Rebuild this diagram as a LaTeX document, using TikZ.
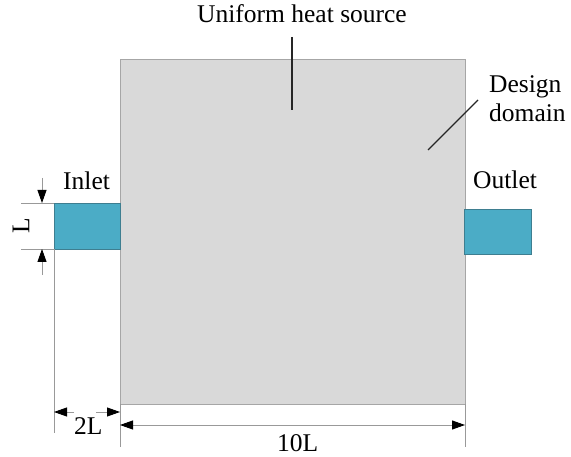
\documentclass[tikz,border=0pt]{standalone}
\usepackage{fontspec}
\setmainfont{Liberation Serif}
\newfontfamily\tnrfont{Liberation Serif}
\usetikzlibrary{arrows.meta}
\definecolor{domfill}{HTML}{D9D9D9}
\definecolor{domedge}{HTML}{A6A6A6}
\definecolor{portfill}{HTML}{4BACC6}
\definecolor{portedge}{HTML}{3E7E90}
\definecolor{extgray}{HTML}{999999}
\tikzset{
  lbl/.style={inner sep=0pt, font=\tnrfont\fontsize{25.5}{29}\selectfont, anchor=base west},
  box/.style={inner sep=0pt, outer sep=0pt, anchor=north west},
  ext/.style={draw=extgray, line width=0.9pt},
  tipk/.tip={Triangle[length=13pt,width=9pt,color=black]},
  dimline/.style={draw=extgray, line width=0.9pt, -tipk},
  dimboth/.style={draw=extgray, line width=0.9pt, tipk-tipk},
  leader/.style={draw=black!85, line width=1.1pt}
}
\begin{document}
\begin{tikzpicture}[x=1pt,y=-1pt]
\useasboundingbox (0,0) rectangle (571,457);
% shapes
\node[box, fill=domfill, draw=domedge, line width=0.8pt, minimum width=345pt, minimum height=345pt] (dom) at (120,59) {};
\node[box, fill=portfill, draw=portedge, line width=0.8pt, minimum width=66pt, minimum height=46pt] (inlet) at (54,203) {};
\node[box, fill=portfill, draw=portedge, line width=0.8pt, minimum width=67pt, minimum height=45pt] (outlet) at (464,209) {};
% labels
\node[lbl] (tsrc) at (197,23) {Uniform heat source};
\node[lbl] (tin) at (63,190) {Inlet};
\node[lbl] (tout) at (473,189) {Outlet};
\node[lbl] (tdes) at (489,93) {Design};
\node[lbl] (tdom) at (489,122) {domain};
\node[lbl] (t2L) at (74,435) {2L};
\node[lbl] (t10L) at (277,451) {10L};
\node[inner sep=0pt, font=\tnrfont\fontsize{25.5}{29}\selectfont, rotate=90] (tL) at (21,226) {L};
% coordinates
\coordinate (s1) at (292,37);
\coordinate (s2) at (292,110);
\coordinate (d1) at (478,100);
\coordinate (d2) at (428,150);
\coordinate (e1a) at (21,203);
\coordinate (e2a) at (21,249);
\coordinate (la) at (42,178);
\coordinate (lat) at (42,203);
\coordinate (lb) at (42,275);
\coordinate (lbt) at (42,249);
\coordinate (v1a) at (54,249);
\coordinate (v1b) at (54,433);
\coordinate (v2a) at (120,404);
\coordinate (v2b) at (120,447);
\coordinate (v3a) at (465,404);
\coordinate (v3b) at (465,447);
\coordinate (a1s) at (74,412);
\coordinate (a1t) at (54,412);
\coordinate (a2s) at (96,412);
\coordinate (a2t) at (120,412);
\coordinate (b1) at (120,425);
\coordinate (b2) at (465,425);
% leaders
\draw[leader] (s1) -- (s2);
\draw[leader] (d1) -- (d2);
% extension lines
\draw[ext] (e1a) -- (inlet.north west);
\draw[ext] (e2a) -- (inlet.south west);
\draw[ext] (v1a) -- (v1b);
\draw[ext] (v2a) -- (v2b);
\draw[ext] (v3a) -- (v3b);
% dimension arrows
\draw[dimline] (la) -- (lat);
\draw[dimline] (lb) -- (lbt);
\draw[dimline] (a1s) -- (a1t);
\draw[dimline] (a2s) -- (a2t);
\draw[dimboth] (b1) -- (b2);
\end{tikzpicture}
\end{document}
